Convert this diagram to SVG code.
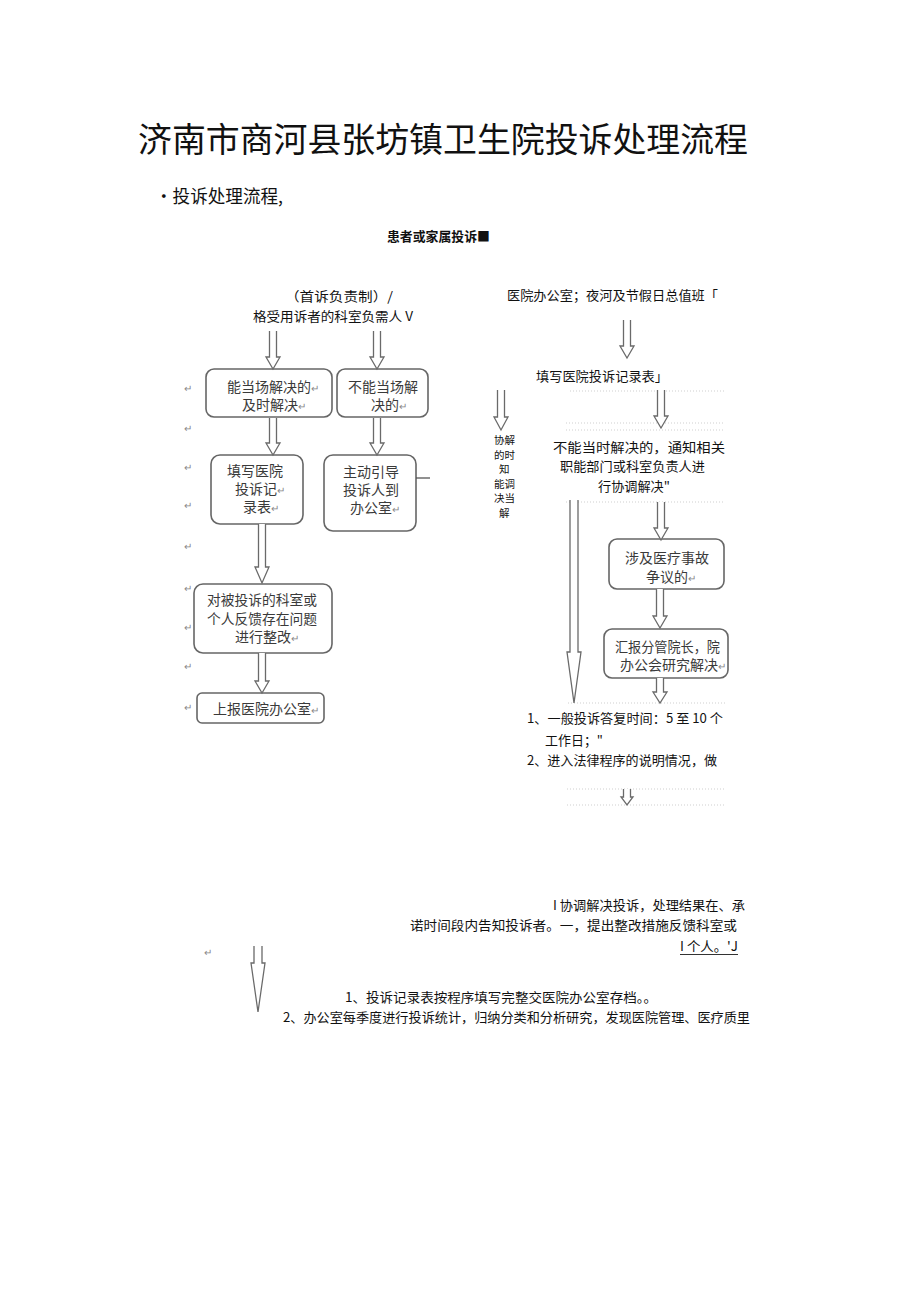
<svg xmlns="http://www.w3.org/2000/svg" width="920" height="1301" viewBox="0 0 920 1301">
<style>
text{font-family:"Noto Sans CJK SC","Liberation Sans",sans-serif;fill:#111}
.t{font-size:13px}
.b{font-size:14px;fill:#3a3a3a}
.r{font-size:10px;fill:#888}
.v{font-size:10.5px}
.box{fill:#fff;stroke:#666;stroke-width:1.6}
.arr{fill:#fff;stroke:#6a6a6a;stroke-width:1.3}
.dot{stroke:#cfcfcf;stroke-width:1;stroke-dasharray:1 2}
</style>
<rect width="920" height="1301" fill="#fff"/>
<g id="title">
<text x="138" y="152" font-size="34" textLength="610" lengthAdjust="spacingAndGlyphs">济南市商河县张坊镇卫生院投诉处理流程</text>
<text x="155" y="203" font-size="18" textLength="128" lengthAdjust="spacingAndGlyphs">•投诉处理流程,</text>
</g>
<g id="start"><text class="t" x="387" y="241" font-weight="bold" textLength="103" lengthAdjust="spacingAndGlyphs">患者或家属投诉■</text></g>
<g id="left-head">
<text class="t" x="285" y="301" textLength="108" lengthAdjust="spacingAndGlyphs">（首诉负责制）/</text>
<text class="t" x="253" y="321" textLength="160" lengthAdjust="spacingAndGlyphs">格受用诉者的科室负需人 V</text>
</g>
<g id="right-head"><text class="t" x="507" y="300" textLength="211" lengthAdjust="spacingAndGlyphs">医院办公室；夜河及节假日总值班「</text></g>
<g id="right-form"><text class="t" x="536" y="381" textLength="132" lengthAdjust="spacingAndGlyphs">填写医院投诉记录表」</text></g>
<g id="box1"><rect class="box" x="206" y="369" width="126" height="48" rx="8"/>
<text class="b" x="227" y="392">能当场解决的<tspan class="r">↵</tspan></text>
<text class="b" x="242" y="410">及时解决<tspan class="r">↵</tspan></text></g>
<g id="box2"><rect class="box" x="337" y="369" width="91" height="48" rx="8"/>
<text class="b" x="348" y="392">不能当场解</text>
<text class="b" x="371" y="410">决的<tspan class="r">↵</tspan></text></g>
<g id="box3"><rect class="box" x="211" y="455" width="92" height="69" rx="9"/>
<text class="b" x="227" y="476">填写医院</text>
<text class="b" x="235" y="494">投诉记<tspan class="r">↵</tspan></text>
<text class="b" x="243" y="512">录表<tspan class="r">↵</tspan></text></g>
<g id="box4"><rect class="box" x="324" y="455" width="92" height="76" rx="9"/>
<text class="b" x="343" y="477">主动引导</text>
<text class="b" x="343" y="495">投诉人到</text>
<text class="b" x="350" y="513">办公室<tspan class="r">↵</tspan></text></g>
<g id="box5"><rect class="box" x="194" y="584" width="138" height="69" rx="9"/>
<text class="b" x="207" y="605" textLength="110" lengthAdjust="spacingAndGlyphs">对被投诉的科室或</text>
<text class="b" x="207" y="624" textLength="110" lengthAdjust="spacingAndGlyphs">个人反馈存在问题</text>
<text class="b" x="235" y="642">进行整改<tspan class="r">↵</tspan></text></g>
<g id="box6"><rect class="box" x="197" y="693" width="127" height="30" rx="5"/>
<text class="b" x="213" y="714">上报医院办公室<tspan class="r">↵</tspan></text></g>
<g id="side-text">
<text class="v" x="494" y="444">协解</text>
<text class="v" x="494" y="458.5">的时</text>
<text class="v" x="499" y="473">知</text>
<text class="v" x="494" y="487.5">能调</text>
<text class="v" x="494" y="502">决当</text>
<text class="v" x="499" y="516.5">解</text>
</g>
<g id="notify">
<text class="t" x="553" y="452" textLength="172" lengthAdjust="spacingAndGlyphs">不能当时解决的，通知相关</text>
<text class="t" x="560" y="471" textLength="145" lengthAdjust="spacingAndGlyphs">职能部门或科室负责人进</text>
<text class="t" x="598" y="491" textLength="72" lengthAdjust="spacingAndGlyphs">行协调解决"</text>
</g>
<g id="box7"><rect class="box" x="609" y="539" width="115" height="50" rx="8"/>
<text class="b" x="625" y="563">涉及医疗事故</text>
<text class="b" x="646" y="582">争议的<tspan class="r">↵</tspan></text></g>
<g id="box8"><rect class="box" x="604" y="629" width="124" height="49" rx="8"/>
<text class="b" x="615" y="652" textLength="105" lengthAdjust="spacingAndGlyphs">汇报分管院长，院</text>
<text class="b" x="620" y="670">办公会研究解决<tspan class="r">↵</tspan></text></g>
<g id="reply">
<text class="t" x="527" y="723" textLength="196" lengthAdjust="spacingAndGlyphs">1、一般投诉答复时间：5 至 10 个</text>
<text class="t" x="545" y="745" textLength="58" lengthAdjust="spacingAndGlyphs">工作日；"</text>
<text class="t" x="527" y="765" textLength="190" lengthAdjust="spacingAndGlyphs">2、进入法律程序的说明情况，做</text>
</g>
<g id="resolve">
<text class="t" x="553" y="910" textLength="192" lengthAdjust="spacingAndGlyphs">I 协调解决投诉，处理结果在、承</text>
<text class="t" x="410" y="930" textLength="327" lengthAdjust="spacingAndGlyphs">诺时间段内告知投诉者。一，提出整改措施反馈科室或</text>
<text class="t" x="680" y="951" textLength="58" lengthAdjust="spacingAndGlyphs">I 个人。'J</text>
<line x1="680" y1="954.5" x2="738" y2="954.5" stroke="#333" stroke-width="1"/>
</g>
<g id="archive">
<text class="t" x="345" y="1002" textLength="312" lengthAdjust="spacingAndGlyphs">1、投诉记录表按程序填写完整交医院办公室存档。。</text>
<text class="t" x="283" y="1022" textLength="467" lengthAdjust="spacingAndGlyphs">2、办公室每季度进行投诉统计，归纳分类和分析研究，发现医院管理、医疗质里</text>
</g>
<g id="marks">
<text class="r" x="184" y="392">↵</text><text class="r" x="184" y="432">↵</text><text class="r" x="184" y="471">↵</text>
<text class="r" x="184" y="509">↵</text><text class="r" x="184" y="550">↵</text><text class="r" x="184" y="592">↵</text>
<text class="r" x="184" y="631">↵</text><text class="r" x="184" y="670">↵</text><text class="r" x="184" y="711">↵</text>
<text class="r" x="204" y="956">↵</text>
</g>
<g id="connectors">
<line class="dot" x1="570" y1="391" x2="725" y2="391"/>
<line class="dot" x1="566" y1="423" x2="725" y2="423"/>
<line class="dot" x1="566" y1="430" x2="725" y2="430"/>
<line class="dot" x1="566" y1="502" x2="725" y2="502"/>
<line class="dot" x1="568" y1="703" x2="725" y2="703"/>
<line class="dot" x1="567" y1="789" x2="725" y2="789"/>
<line class="dot" x1="567" y1="805" x2="725" y2="805"/>
<line x1="416" y1="478" x2="430" y2="478" stroke="#555" stroke-width="1.3"/>
<path class="arr" d="M269.5 331V357H266L273 369L280 357H276.5V331"/>
<path class="arr" d="M373.5 331V357H370L377 369L384 357H380.5V331"/>
<path class="arr" d="M269.5 418V443H266L273 455L280 443H276.5V418"/>
<path class="arr" d="M373.5 418V443H370L377 455L384 443H380.5V418"/>
<path class="arr" d="M258.5 524V567H255L262 583L269 567H265.5V524"/>
<path class="arr" d="M258.5 653V681H255L262 693L269 681H265.5V653"/>
<path class="arr" d="M623.5 320V346H620L627 358L634 346H630.5V320"/>
<path class="arr" d="M497.5 390V417H494L501 430L508 417H504.5V390"/>
<path class="arr" d="M657.5 390V416H654L661 428L668 416H664.5V390"/>
<path class="arr" d="M657.5 502V528H654L661 540L668 528H664.5V502"/>
<path class="arr" d="M656.5 589V616H653L660 628L667 616H663.5V589"/>
<path class="arr" d="M656.5 678V692H653L660 703L667 692H663.5V678"/>
<path class="arr" d="M623.5 789V797H621L627 805L633 797H630.5V789"/>
<path class="arr" d="M570 500V652H567L574 703L581 652H578V500"/>
<path class="arr" d="M254 946V963H251L258 1012L265 963H262V946"/>
</g>
</svg>
